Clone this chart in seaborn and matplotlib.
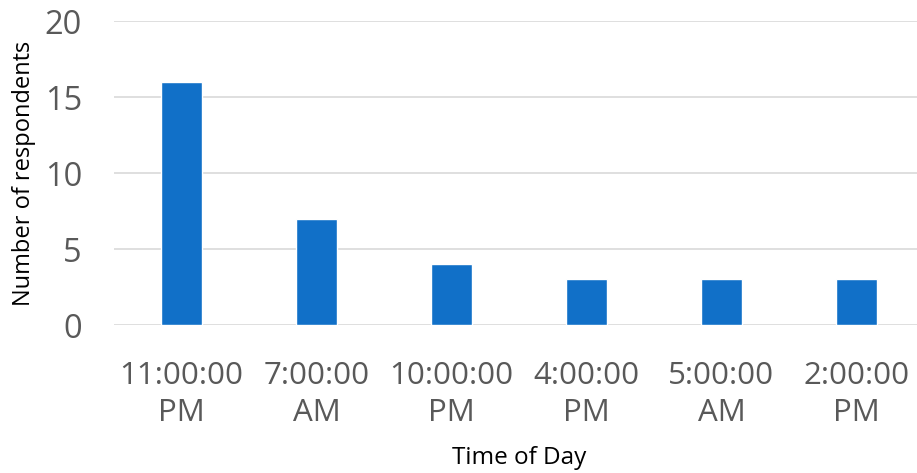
import matplotlib
matplotlib.use('Agg')
import matplotlib.pyplot as plt
import seaborn as sns
import pandas as pd

# Data
time_labels = ['11:00:00\nPM', '7:00:00\nAM', '10:00:00\nPM', '4:00:00\nPM', '5:00:00\nAM', '2:00:00\nPM']
respondents = [16, 7, 4, 3, 3, 3]
y_ticks = [0, 5, 10, 15, 20]

df = pd.DataFrame({'Time': time_labels, 'Count': respondents})

sns.set_theme(style='white')
plt.rcParams['font.family'] = ['Open Sans', 'DejaVu Sans']

fig = plt.figure(figsize=(9.17, 4.73), dpi=100)
ax = fig.add_axes([114 / 917, 148 / 473, 810 / 917, 304 / 473])

sns.barplot(data=df, x='Time', y='Count', color='#1170C8', width=0.31,
            saturation=1, ax=ax, zorder=3)

ax.set_ylim(0, 20)
ax.set_xlim(-0.5, 5.5)
ax.set_yticks(y_ticks)
ax.yaxis.grid(True, color='#D9D9D9', linewidth=1.2, zorder=0)
ax.xaxis.grid(False)
for s in ax.spines.values():
    s.set_visible(False)
ax.tick_params(axis='both', length=0, labelsize=22.5, colors='#595959')
ax.tick_params(axis='x', pad=26)
ax.tick_params(axis='y', labelsize=23.5, pad=23)
for lbl in ax.get_xticklabels():
    lbl.set_linespacing(1.3)

ax.set_xlabel('Time of Day', fontsize=17.5, color='#000000', labelpad=13)
ax.set_ylabel('Number of respondents', fontsize=17, color='#000000', labelpad=6)

plt.savefig('out.png', dpi=100)
plt.close()
